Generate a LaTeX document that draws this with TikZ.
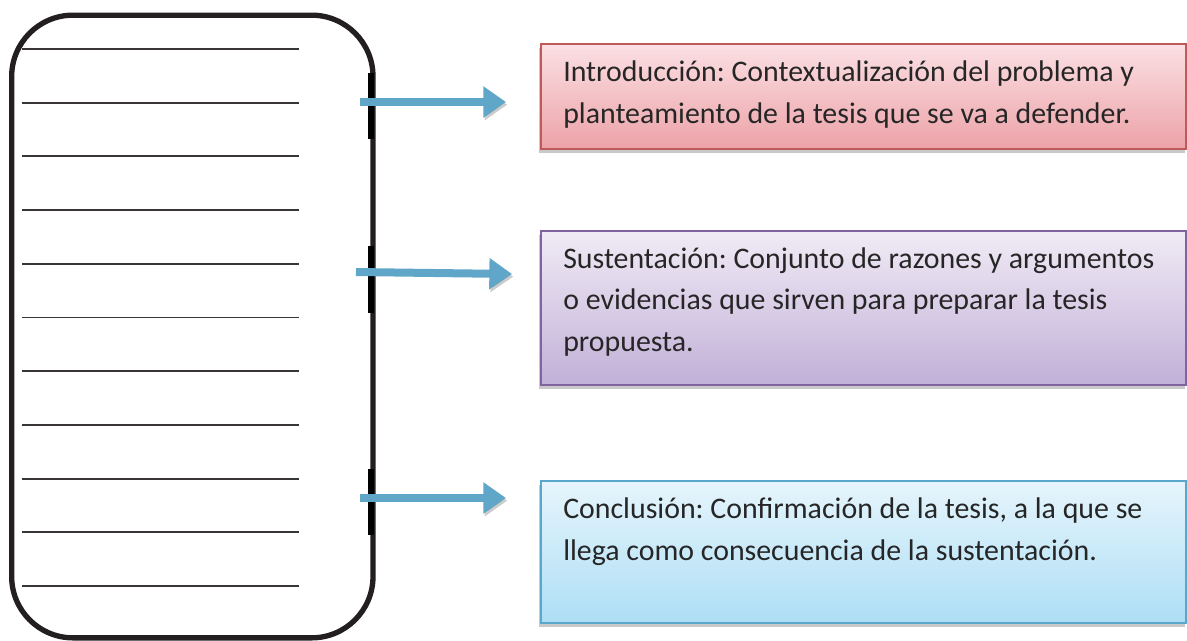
\documentclass[tikz,border=0pt]{standalone}
\usepackage{fontspec}
\setmainfont{Carlito}
\usetikzlibrary{arrows.meta,shadows}

\definecolor{flecha}{HTML}{5FA6C9}
\definecolor{borde}{HTML}{231F20}
\definecolor{rojoborde}{HTML}{BE5A5A}
\definecolor{rojoarriba}{HTML}{FBE0E3}
\definecolor{rojoabajo}{HTML}{ECA2A8}
\definecolor{moradoborde}{HTML}{8064A2}
\definecolor{moradoarriba}{HTML}{F0EBF5}
\definecolor{moradoabajo}{HTML}{C2B0D8}
\definecolor{azulborde}{HTML}{5AA7CC}
\definecolor{azularriba}{HTML}{E6F5FC}
\definecolor{azulabajo}{HTML}{ADDEF5}

\begin{document}
\frenchspacing
\begin{tikzpicture}[x=0.75pt,y=-0.75pt,
    hoja/.style={draw=borde,line width=4pt,rounded corners=46pt,inner sep=0pt},
    renglon/.style={draw=borde!90,line width=1.4pt},
    caja/.style={line width=1.2pt,inner sep=0pt,anchor=north west,minimum width=484pt,
      drop shadow={shadow xshift=-1pt,shadow yshift=-3pt,opacity=.3,fill=black!70}},
    texto/.style={anchor=base west,align=left,inner sep=0pt,font=\fontsize{22.4}{31}\selectfont,text=black!85},
    ancho/.style={line width=6pt,color=flecha,-{Triangle[length=17pt,width=22.5pt]},
      preaction={draw=black,opacity=.2,transform canvas={xshift=1pt,yshift=-2pt}}}]
    \useasboundingbox (0,0) rectangle (1187,640);

    \node[hoja,minimum width=271pt,minimum height=467pt,anchor=north west] (hoja) at (9,12.5) {};
    \foreach \k in {0,...,10}
      \draw[renglon] (22,{49+53.7*\k}) -- (299,{49+53.7*\k});

    \draw[line width=4.5pt] (370.5,73) -- (370.5,139);
    \draw[line width=4.5pt] (370.5,246) -- (370.5,313);
    \draw[line width=4.5pt] (370.5,469) -- (370.5,535);

    \node[caja,draw=rojoborde,top color=rojoarriba,bottom color=rojoabajo,minimum height=79pt] (intro) at (540,43) {};
    \node[caja,draw=moradoborde,top color=moradoarriba,bottom color=moradoabajo,minimum height=115.5pt] (sust) at (540,230) {};
    \node[caja,draw=azulborde,top color=azularriba,bottom color=azulabajo,minimum height=106.5pt] (concl) at (540,480) {};

    \node[texto] (introtxt) at (563,123) {Introducción: Contextualización del problema y\\planteamiento de la tesis que se va a defender.};
    \node[texto] (susttxt) at (563,351) {Sustentación: Conjunto de razones y argumentos\\o evidencias que sirven para preparar la tesis\\propuesta.};
    \node[texto] (concltxt) at (563,560) {Conclusión: Confirmación de la tesis, a la que se\\llega como consecuencia de la sustentación.};

    \coordinate (s1) at (360,102);
    \coordinate (e1) at (506,102);
    \coordinate (s2) at (356,272);
    \coordinate (e2) at (512,274);
    \coordinate (s3) at (360,498);
    \coordinate (e3) at (506,498);
    \draw[ancho] (s1) -- (e1);
    \draw[ancho] (s2) -- (e2);
    \draw[ancho] (s3) -- (e3);
\end{tikzpicture}
\end{document}
